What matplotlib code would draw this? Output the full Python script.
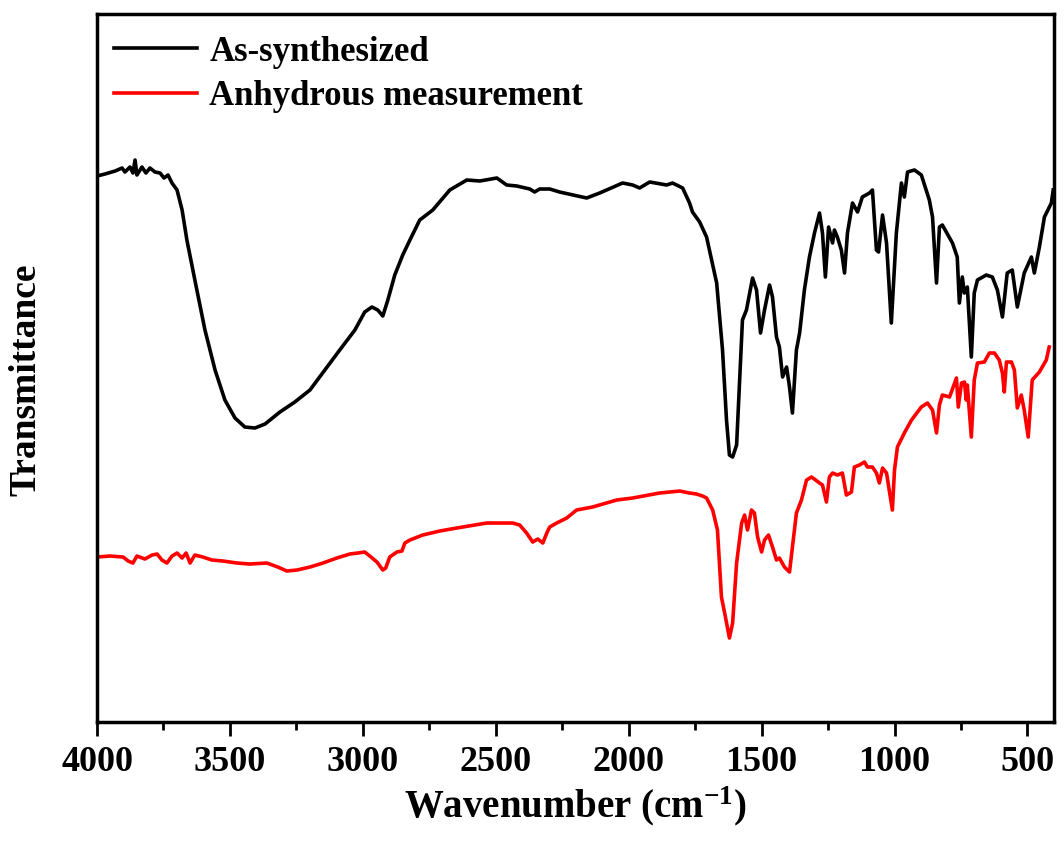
import matplotlib
matplotlib.use("Agg")
import matplotlib.pyplot as plt
from matplotlib.ticker import MultipleLocator

plt.rcParams["font.family"] = "Liberation Serif"
plt.rcParams["font.weight"] = "bold"
plt.rcParams["mathtext.fontset"] = "custom"
plt.rcParams["mathtext.rm"] = "Liberation Serif:bold"
plt.rcParams["mathtext.bf"] = "Liberation Serif:bold"
plt.rcParams["mathtext.it"] = "Liberation Serif:bold"

# FTIR spectra, wavenumber (cm-1) vs transmittance (a.u.)
wn_as = [4000, 3970, 3932, 3906, 3895, 3876, 3865, 3857, 3850, 3831, 3816, 3801,
         3782, 3763, 3748, 3733, 3718, 3699, 3680, 3662, 3632, 3594, 3556, 3519,
         3481, 3444, 3406, 3368, 3312, 3256, 3199, 3143, 3087, 3030, 2993, 2966,
         2944, 2925, 2906, 2880, 2850, 2823, 2786, 2737, 2673, 2609, 2560, 2496,
         2459, 2421, 2372, 2354, 2335, 2297, 2260, 2158, 2109, 2023, 1985, 1959,
         1921, 1857, 1835, 1797, 1771, 1760, 1733, 1707, 1688, 1669, 1647, 1632,
         1621, 1609, 1594, 1583, 1572, 1557, 1534, 1519, 1504, 1489, 1470, 1459,
         1444, 1433, 1421, 1406, 1395, 1384, 1369, 1357, 1339, 1320, 1301, 1282,
         1271, 1260, 1248, 1233, 1226, 1215, 1200, 1188, 1177, 1158, 1139, 1121,
         1094, 1083, 1068, 1060, 1045, 1030, 1012, 993, 974, 963, 951, 925,
         899, 869, 857, 842, 831, 820, 782, 764, 756, 745, 737, 726,
         711, 700, 688, 655, 632, 613, 594, 576, 557, 538, 512, 485,
         474, 455, 436, 410, 403]
t_as = [54.6, 54.8, 55.1, 55.4, 55.0, 55.5, 54.9, 56.2, 54.7, 55.5, 54.9, 55.4,
        55.0, 54.9, 54.4, 54.7, 53.9, 53.2, 51.2, 48.2, 44.2, 39.2, 35.2, 32.2,
        30.4, 29.5, 29.4, 29.8, 31.0, 32.0, 33.2, 35.2, 37.2, 39.2, 41.0, 41.5,
        41.2, 40.6, 42.2, 44.7, 46.7, 48.2, 50.2, 51.2, 53.2, 54.2, 54.1, 54.4,
        53.7, 53.6, 53.3, 53.0, 53.3, 53.3, 53.0, 52.4, 52.9, 53.9, 53.7, 53.4,
        54.0, 53.7, 53.9, 53.4, 51.9, 51.0, 50.0, 48.5, 46.2, 43.9, 37.2, 30.2,
        26.7, 26.5, 27.7, 33.9, 40.2, 41.2, 44.4, 43.2, 38.9, 41.2, 43.7, 42.5,
        38.5, 37.5, 34.5, 35.5, 33.5, 30.9, 37.2, 38.9, 43.2, 46.5, 48.9, 50.9,
        48.9, 44.5, 49.5, 47.9, 49.2, 48.5, 47.2, 44.9, 48.9, 51.9, 51.0, 52.5,
        52.9, 53.2, 47.2, 47.0, 50.7, 47.9, 39.9, 48.9, 53.9, 52.5, 55.0, 55.2,
        54.7, 52.2, 50.5, 43.9, 49.5, 49.7, 47.9, 46.5, 41.9, 44.5, 42.9, 43.5,
        36.5, 42.9, 44.2, 44.7, 44.5, 43.2, 40.5, 44.9, 45.2, 41.5, 44.9, 46.5,
        44.9, 47.5, 50.5, 51.9, 53.2]

wn_anh = [4000, 3951, 3902, 3883, 3865, 3850, 3820, 3793, 3774, 3756, 3737, 3718,
          3699, 3680, 3665, 3650, 3632, 3602, 3568, 3526, 3474, 3425, 3361, 3320,
          3286, 3248, 3199, 3150, 3098, 3049, 3019, 2993, 2974, 2947, 2925, 2914,
          2899, 2872, 2853, 2842, 2823, 2775, 2711, 2647, 2534, 2436, 2410, 2384,
          2361, 2342, 2323, 2308, 2297, 2271, 2233, 2196, 2136, 2045, 1985, 1884,
          1808, 1771, 1745, 1722, 1707, 1684, 1666, 1651, 1636, 1621, 1609, 1594,
          1575, 1564, 1553, 1538, 1527, 1515, 1500, 1489, 1474, 1459, 1444, 1433,
          1414, 1395, 1384, 1369, 1350, 1331, 1312, 1282, 1271, 1256, 1245, 1233,
          1215, 1196, 1181, 1162, 1151, 1132, 1113, 1102, 1083, 1068, 1057, 1045,
          1030, 1008, 1000, 989, 963, 936, 899, 876, 857, 842, 831, 820,
          793, 767, 760, 748, 737, 730, 726, 711, 700, 688, 662, 643,
          624, 606, 594, 587, 579, 560, 549, 538, 523, 512, 497, 482,
          455, 429, 418]
t_anh = [16.5, 16.6, 16.5, 16.1, 15.9, 16.6, 16.3, 16.7, 16.8, 16.2, 15.9, 16.6,
         16.9, 16.4, 16.9, 15.9, 16.7, 16.5, 16.2, 16.1, 15.9, 15.8, 15.9, 15.5,
         15.1, 15.2, 15.5, 15.9, 16.4, 16.8, 16.9, 17.0, 16.6, 16.0, 15.2, 15.4,
         16.5, 17.0, 17.1, 17.9, 18.2, 18.7, 19.1, 19.4, 19.9, 19.9, 19.7, 18.9,
         18.0, 18.3, 17.9, 18.9, 19.5, 19.9, 20.4, 21.2, 21.5, 22.2, 22.4, 22.9,
         23.1, 22.9, 22.8, 22.6, 22.4, 21.2, 19.2, 12.5, 10.5, 8.4, 9.9, 15.9,
         19.9, 20.7, 19.2, 21.2, 20.9, 18.5, 17.0, 18.2, 18.7, 17.5, 16.2, 16.4,
         15.5, 15.0, 17.5, 20.9, 22.2, 24.2, 24.5, 23.9, 23.7, 22.0, 24.5, 24.9,
         24.7, 24.9, 22.7, 23.0, 25.5, 25.7, 26.0, 25.5, 25.5, 24.9, 23.9, 25.4,
         24.9, 21.2, 25.2, 27.5, 28.9, 30.2, 31.5, 31.9, 31.2, 28.9, 31.7, 32.7,
         32.5, 34.4, 31.5, 33.9, 34.0, 32.2, 33.7, 28.5, 34.2, 35.9, 36.0, 36.9,
         36.9, 36.2, 34.9, 33.0, 36.0, 36.0, 35.2, 31.4, 32.7, 31.2, 28.5, 34.2,
         35.0, 36.2, 37.5]

fig = plt.figure(figsize=(10.64, 8.43), dpi=100)
ax = fig.add_axes([0.0912, 0.1435, 0.8994, 0.8399])

ax.plot(wn_as, t_as, color="black", lw=2.6, label="As-synthesized")
ax.plot(wn_anh, t_anh, color="red", lw=2.6, label="Anhydrous measurement")

ax.set_xlim(4000, 400)
ax.set_ylim(0, 70.8)
ax.xaxis.set_major_locator(MultipleLocator(500))
ax.xaxis.set_minor_locator(MultipleLocator(250))
ax.set_yticks([])
ax.tick_params(axis="x", which="major", direction="out", length=10, width=2,
               labelsize=26, pad=7)
ax.tick_params(axis="x", which="minor", direction="out", length=6, width=2)
for sp in ax.spines.values():
    sp.set_linewidth(2.5)

ax.set_xlabel("Wavenumber (cm$^{-1}$)", fontsize=28, fontweight="bold", labelpad=4)
ax.set_ylabel("Transmittance", fontsize=27, fontweight="bold")
ax.yaxis.set_label_coords(-0.056, 0.483)

ax.legend(loc="upper left", bbox_to_anchor=(-0.005, 1.0), frameon=False,
          fontsize=25, handlelength=2.4, handletextpad=0.35, labelspacing=0.33,
          borderaxespad=0.42, borderpad=0.2)

fig.savefig("out.png", dpi=100)
